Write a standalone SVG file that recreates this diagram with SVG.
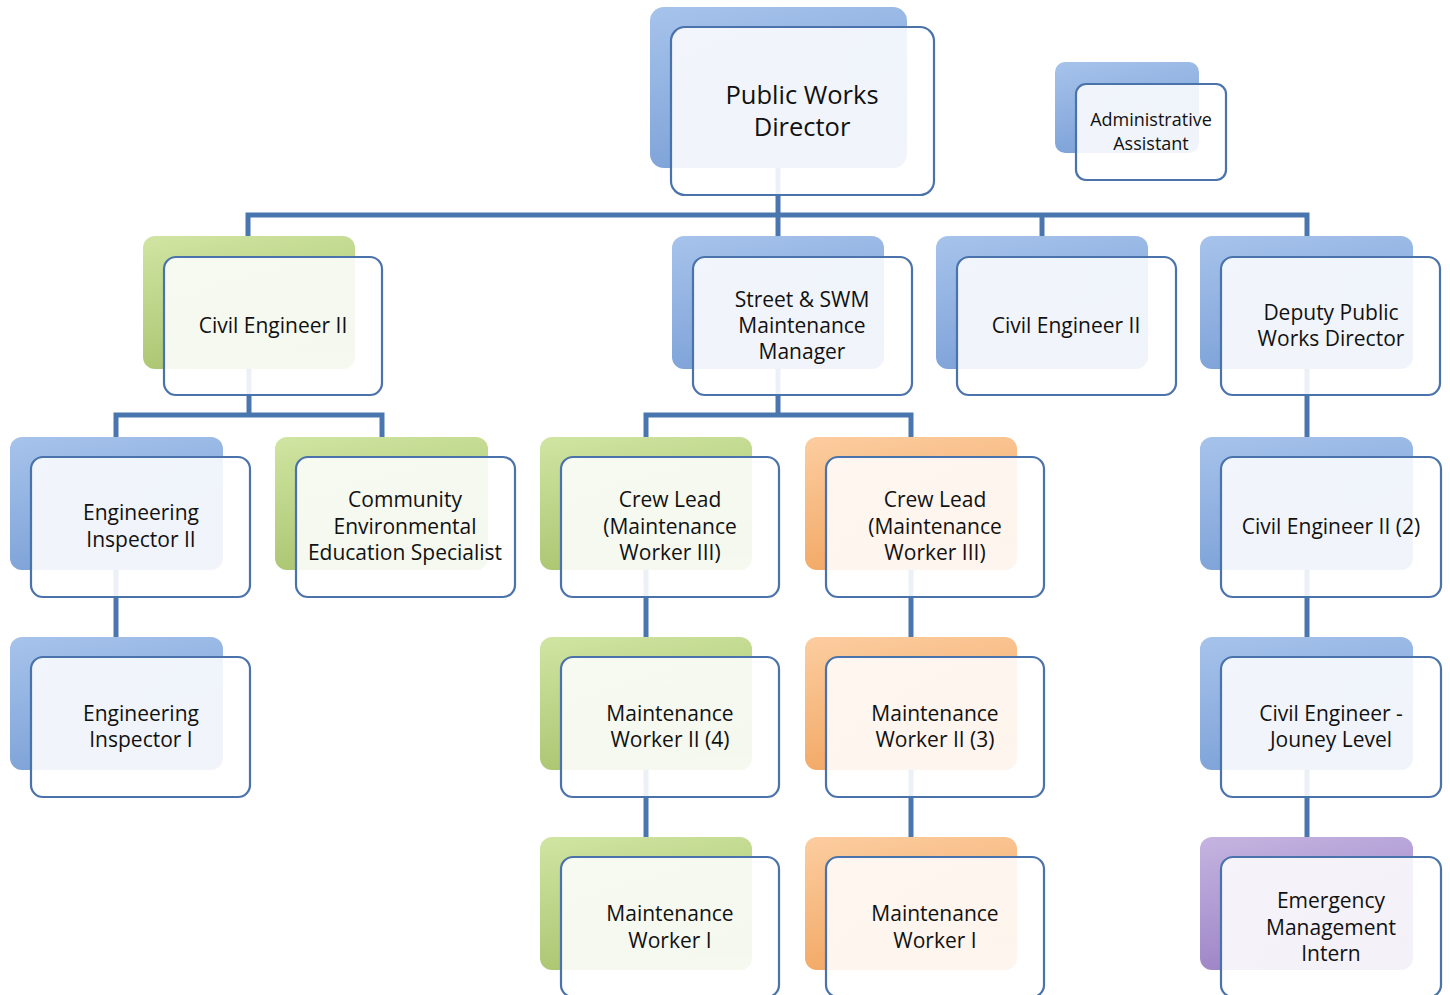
<svg xmlns="http://www.w3.org/2000/svg" width="1450" height="995" viewBox="0 0 1450 995">
<defs>
<linearGradient id="gBlue" x1="0" y1="0" x2="0.3" y2="1"><stop offset="0" stop-color="#a6c3eb"/><stop offset="1" stop-color="#7ea2d8"/></linearGradient>
<linearGradient id="gGreen" x1="0" y1="0" x2="0.3" y2="1"><stop offset="0" stop-color="#d0e5a2"/><stop offset="1" stop-color="#aac571"/></linearGradient>
<linearGradient id="gOrange" x1="0" y1="0" x2="0.3" y2="1"><stop offset="0" stop-color="#fccda0"/><stop offset="1" stop-color="#f2a865"/></linearGradient>
<linearGradient id="gPurple" x1="0" y1="0" x2="0.3" y2="1"><stop offset="0" stop-color="#c5b4e1"/><stop offset="1" stop-color="#9d84c6"/></linearGradient>
<linearGradient id="gFront" x1="0" y1="0" x2="0" y2="1"><stop offset="0" stop-color="#ffffff" stop-opacity="0.86"/><stop offset="1" stop-color="#ffffff" stop-opacity="0.9"/></linearGradient>
</defs>
<style>
.back{stroke:none}
.b{fill:url(#gBlue)}
.g{fill:url(#gGreen)}
.o{fill:url(#gOrange)}
.p{fill:url(#gPurple)}
.front{fill:url(#gFront);stroke:#4a72ab;stroke-width:2.2}
.conn{fill:none;stroke:#4a76b0;stroke-width:5;stroke-linejoin:miter}
text{font-family:"Open Sans","Noto Sans","Liberation Sans",sans-serif;font-size:21px;fill:#111;text-anchor:middle}
.big{font-size:25.5px}
.small{font-size:18px}
</style>

<g id="connectors">
<path class="conn" d="M778 168 V215"/>
<path class="conn" d="M248 236 V215 H1307 V236"/>
<path class="conn" d="M778 215 V236"/>
<path class="conn" d="M1042 215 V236"/>
<path class="conn" d="M249 369 V415"/>
<path class="conn" d="M116 437 V415 H382 V437"/>
<path class="conn" d="M116 570 V637"/>
<path class="conn" d="M778 369 V415"/>
<path class="conn" d="M646 437 V415 H911 V437"/>
<path class="conn" d="M646 570 V637 M646 770 V837"/>
<path class="conn" d="M911 570 V637 M911 770 V837"/>
<path class="conn" d="M1307 369 V437 M1307 570 V637 M1307 770 V837"/>
</g>

<g id="n-director">
<rect class="back b" x="650" y="7" width="257" height="161" rx="14"/>
<rect class="front" x="671" y="27" width="263" height="168" rx="14"/>
<text class="big" x="802" y="104">Public Works</text>
<text class="big" x="802" y="136">Director</text>
</g>

<g id="n-admin">
<rect class="back b" x="1055" y="62" width="144" height="91" rx="10"/>
<rect class="front" x="1076" y="84" width="150" height="96" rx="10"/>
<text class="small" x="1151" y="126">Administrative</text>
<text class="small" x="1151" y="150">Assistant</text>
</g>

<g id="n-ce2-left">
<rect class="back g" x="143" y="236" width="212" height="133" rx="12"/>
<rect class="front" x="164" y="257" width="218" height="138" rx="12"/>
<text x="273" y="333">Civil Engineer II</text>
</g>

<g id="n-street">
<rect class="back b" x="672" y="236" width="212" height="133" rx="12"/>
<rect class="front" x="693" y="257" width="219" height="138" rx="12"/>
<text x="802" y="307">Street &amp; SWM</text>
<text x="802" y="333">Maintenance</text>
<text x="802" y="359">Manager</text>
</g>

<g id="n-ce2-mid">
<rect class="back b" x="936" y="236" width="212" height="133" rx="12"/>
<rect class="front" x="957" y="257" width="219" height="138" rx="12"/>
<text x="1066" y="333">Civil Engineer II</text>
</g>

<g id="n-deputy">
<rect class="back b" x="1200" y="236" width="213" height="133" rx="12"/>
<rect class="front" x="1221" y="257" width="219" height="138" rx="12"/>
<text x="1331" y="320">Deputy Public</text>
<text x="1331" y="346">Works Director</text>
</g>

<g id="n-ei2">
<rect class="back b" x="10" y="437" width="213" height="133" rx="12"/>
<rect class="front" x="31" y="457" width="219" height="140" rx="12"/>
<text x="141" y="520">Engineering</text>
<text x="141" y="547">Inspector II</text>
</g>

<g id="n-community">
<rect class="back g" x="275" y="437" width="213" height="133" rx="12"/>
<rect class="front" x="296" y="457" width="219" height="140" rx="12"/>
<text x="405" y="507">Community</text>
<text x="405" y="534">Environmental</text>
<text x="405" y="560">Education Specialist</text>
</g>

<g id="n-crew-green">
<rect class="back g" x="540" y="437" width="212" height="133" rx="12"/>
<rect class="front" x="561" y="457" width="218" height="140" rx="12"/>
<text x="670" y="507">Crew Lead</text>
<text x="670" y="534">(Maintenance</text>
<text x="670" y="560">Worker III)</text>
</g>

<g id="n-crew-orange">
<rect class="back o" x="805" y="437" width="212" height="133" rx="12"/>
<rect class="front" x="826" y="457" width="218" height="140" rx="12"/>
<text x="935" y="507">Crew Lead</text>
<text x="935" y="534">(Maintenance</text>
<text x="935" y="560">Worker III)</text>
</g>

<g id="n-ce2-2">
<rect class="back b" x="1200" y="437" width="213" height="133" rx="12"/>
<rect class="front" x="1221" y="457" width="220" height="140" rx="12"/>
<text x="1331" y="534">Civil Engineer II (2)</text>
</g>

<g id="n-ei1">
<rect class="back b" x="10" y="637" width="213" height="133" rx="12"/>
<rect class="front" x="31" y="657" width="219" height="140" rx="12"/>
<text x="141" y="721">Engineering</text>
<text x="141" y="747">Inspector I</text>
</g>

<g id="n-mw2-green">
<rect class="back g" x="540" y="637" width="212" height="133" rx="12"/>
<rect class="front" x="561" y="657" width="218" height="140" rx="12"/>
<text x="670" y="721">Maintenance</text>
<text x="670" y="747">Worker II (4)</text>
</g>

<g id="n-mw2-orange">
<rect class="back o" x="805" y="637" width="212" height="133" rx="12"/>
<rect class="front" x="826" y="657" width="218" height="140" rx="12"/>
<text x="935" y="721">Maintenance</text>
<text x="935" y="747">Worker II (3)</text>
</g>

<g id="n-ce-journey">
<rect class="back b" x="1200" y="637" width="213" height="133" rx="12"/>
<rect class="front" x="1221" y="657" width="220" height="140" rx="12"/>
<text x="1331" y="721">Civil Engineer -</text>
<text x="1331" y="747">Jouney Level</text>
</g>

<g id="n-mw1-green">
<rect class="back g" x="540" y="837" width="212" height="133" rx="12"/>
<rect class="front" x="561" y="857" width="218" height="140" rx="12"/>
<text x="670" y="921">Maintenance</text>
<text x="670" y="948">Worker I</text>
</g>

<g id="n-mw1-orange">
<rect class="back o" x="805" y="837" width="212" height="133" rx="12"/>
<rect class="front" x="826" y="857" width="218" height="140" rx="12"/>
<text x="935" y="921">Maintenance</text>
<text x="935" y="948">Worker I</text>
</g>

<g id="n-intern">
<rect class="back p" x="1200" y="837" width="213" height="133" rx="12"/>
<rect class="front" x="1221" y="857" width="220" height="140" rx="12"/>
<text x="1331" y="908">Emergency</text>
<text x="1331" y="935">Management</text>
<text x="1331" y="961">Intern</text>
</g>
</svg>
